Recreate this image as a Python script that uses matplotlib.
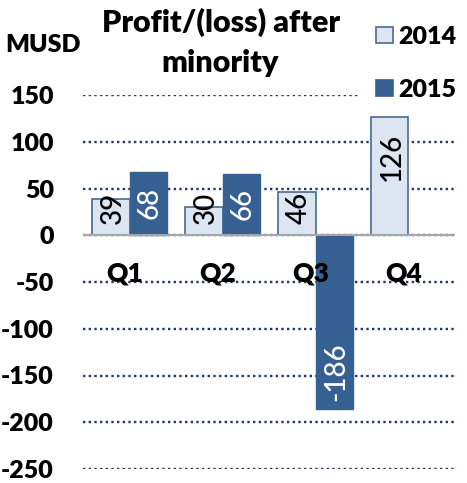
import matplotlib
matplotlib.use("Agg")
import matplotlib.pyplot as plt
from matplotlib.patches import Rectangle
import numpy as np

categories = ["Q1", "Q2", "Q3", "Q4"]
series_2014 = [39, 30, 46, 126]
series_2015 = [68, 66, -186, np.nan]
yticks = [150, 100, 50, 0, -50, -100, -150, -200, -250]
title_lines = ["Profit/(loss) after", "minority"]
unit_label = "MUSD"
legend_labels = ["2014", "2015"]

c14 = "#dce6f2"
c14_edge = "#4a6990"
c15 = "#376092"
grid_c = "#1f3864"
BW = 'heavy'

W, H = 467, 483
plt.rcParams['font.family'] = ['Lato', 'DejaVu Sans']
fig = plt.figure(figsize=(W / 100, H / 100), dpi=100)
ax = fig.add_axes([83 / W, (H - 469) / H, 372 / W, 374 / H])

x = np.arange(len(categories))
bw = 0.4
ax.bar(x - bw / 2, series_2014, bw, color=c14, edgecolor=c14_edge, linewidth=1.2, zorder=3)
ax.bar(x + bw / 2, series_2015, bw, color=c15, edgecolor=c15, linewidth=1.0, zorder=3)

ax.set_xlim(-0.5, 3.5)
ax.set_ylim(-250, 150)
ax.set_yticks(yticks)
ax.set_yticklabels([str(t) for t in yticks], fontsize=18, fontweight=BW)
ax.tick_params(axis='y', length=0, pad=21)
ax.set_xticks([])
for s in ax.spines.values():
    s.set_visible(False)
ax.yaxis.grid(True, color=grid_c, linestyle=(0, (1, 1.4)), linewidth=1.7)
ax.set_axisbelow(True)
ax.axhline(0, color="#a6a6a6", linewidth=1.5, zorder=4)

for i, q in enumerate(categories):
    ax.text(i - 0.05, -49, q, ha='center', va='baseline', fontsize=19, fontweight=BW, zorder=5)


def label(xpos, v, color):
    if np.isnan(v):
        return
    if v >= 0:
        y = v - 16 if v - 16 >= 50 else 46
        ax.text(xpos, y, f"{v:g}", rotation=90, ha='center', va='top', fontsize=20,
                fontweight='medium', color=color, zorder=6)
    else:
        ax.text(xpos, v + 9, f"{v:g}", rotation=90, ha='center', va='bottom', fontsize=20,
                fontweight='medium', color=color, zorder=6)


for i in range(len(categories)):
    label(i - bw / 2 + 0.02, series_2014[i], 'black')
    label(i + bw / 2 + 0.02, series_2015[i], 'white')

# title & unit
fig.text(221 / W, 1 - 32 / H, title_lines[0], ha='center', va='baseline', fontsize=22, fontweight=BW)
fig.text(220 / W, 1 - 72 / H, title_lines[1], ha='center', va='baseline', fontsize=22, fontweight=BW)
fig.text(5 / W, 1 - 52 / H, unit_label, ha='left', va='baseline', fontsize=18, fontweight=BW)

# legend
fig.add_artist(Rectangle((358 / W, 1 - 105 / H), (W - 358) / W, 105 / H, transform=fig.transFigure,
                         facecolor='white', edgecolor='none', zorder=5))
for lab, fc, ec, base in [(legend_labels[0], c14, c14_edge, 44), (legend_labels[1], c15, c15, 97)]:
    fig.add_artist(Rectangle((376 / W, 1 - (base - 1) / H), 17 / W, 16 / H, transform=fig.transFigure,
                             facecolor=fc, edgecolor=ec, linewidth=1.2, zorder=6))
    fig.text(398 / W, 1 - base / H, lab, ha='left', va='baseline', fontsize=18, fontweight=BW, zorder=7)

fig.savefig("out.png", dpi=100)
